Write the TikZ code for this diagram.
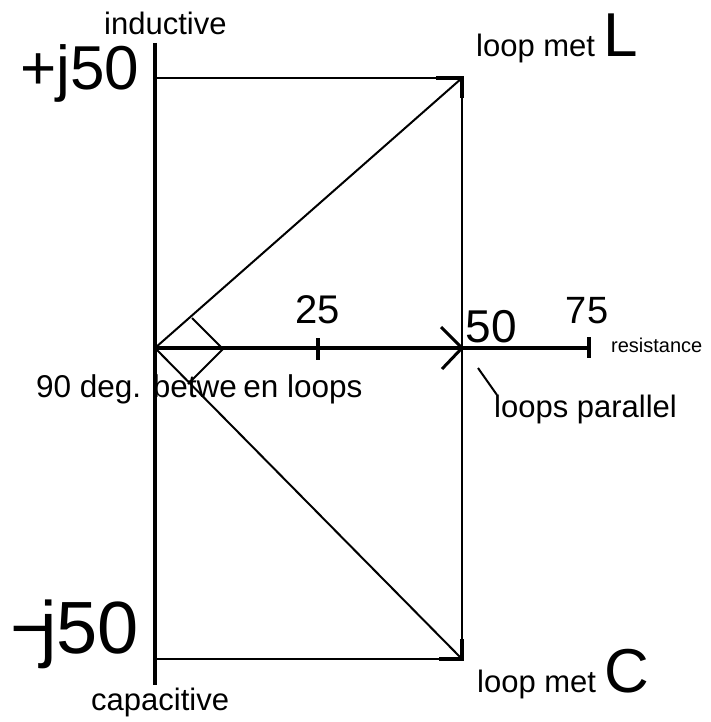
\documentclass[tikz,border=0pt]{standalone}
\usepackage{fontspec}
\setmainfont{Liberation Sans}
\newcommand\myfs[1]{\fontsize{#1}{#1}\selectfont}
\tikzset{
  heavy/.style={line width=4pt, line cap=butt},
  med/.style={line width=2pt},
  light/.style={line width=1.5pt},
  tipline/.style={line width=3.5pt, line cap=butt, line join=miter},
  lbl/.style={inner sep=0pt, anchor=base west},
  lblc/.style={inner sep=0pt, anchor=base},
}
\begin{document}
\begin{tikzpicture}[x=1pt,y=-1pt]
\useasboundingbox (0,0) rectangle (710,722);
% key points
\coordinate (O) at (155,348);
\coordinate (Vtop) at (155,43);
\coordinate (Vbot) at (155,685);
\coordinate (LL) at (155,78);
\coordinate (L) at (462,78);
\coordinate (CL) at (155,659);
\coordinate (C) at (462,659);
\coordinate (R50) at (462,348);
\coordinate (R75) at (589,348);
\coordinate (T25) at (318,348);
\coordinate (M1) at (192,318);
\coordinate (M2) at (223,349);
\coordinate (M3) at (188,384);
\coordinate (P1) at (478,368);
\coordinate (P2) at (497,395);
% axes and frame
\draw[heavy] (Vtop) -- (Vbot);
\draw[med] (LL) -- (L);
\draw[med] (CL) -- (C);
\draw[light] (L) -- (C);
\draw[heavy] (O) -- (R75);
% ticks
\draw[heavy] (T25) ++(0,-10) -- ++(0,22);
\draw[heavy] (R75) ++(0,-11) -- ++(0,21);
% diagonals
\draw[med] (O) -- (L);
\draw[med] (O) -- (C);
% arrowheads
\draw[tipline] (L) ++(-26,0) -- (L) -- ++(0,20);
\draw[tipline] (C) ++(-23,0) -- (C) -- ++(0,-20);
\draw[tipline, line width=3pt] (R50) ++(-21,-21) -- (R50) -- ++(-20,21);
% right angle marker
\draw[med] (M1) -- (M2) -- (M3);
% pointer
\draw[med] (P1) -- (P2);
% labels
\node[lbl] (ind) at (104,35) {\myfs{31}inductive};
\node[lbl] (pj) at (20,90) {\myfs{62}+j50};
\node[lbl] (mj) at (10,653) {\myfs{74}−\kern-0.18em j50};
\node[lbl] (cap) at (91,710) {\myfs{31}capacitive};
\node[lbl] (lml) at (476,57) {\myfs{31}loop met {\myfs{62}L}};
\node[lbl] (lmc) at (477,692) {\myfs{31}loop met {\myfs{62}C}};
\node[lblc] (n25) at (318,323) {\myfs{40}25};
\node[lblc] (n50) at (491,342) {\myfs{46}50};
\node[lblc] (n75) at (587,323) {\myfs{38}75};
\node[lbl] (res) at (611,352) {\myfs{20}resistance};
\node[lbl] (lp) at (494,417) {\myfs{31}loops parallel};
\node[lbl] (deg) at (36,397) {\myfs{31.5}90 deg. betwe\hspace{0.2em}en loops};
\end{tikzpicture}
\end{document}
